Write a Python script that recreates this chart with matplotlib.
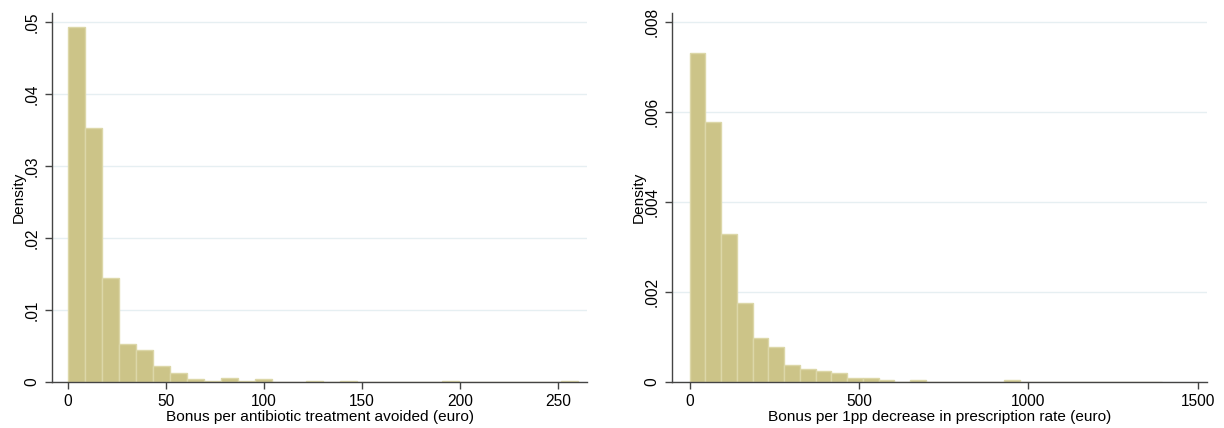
import numpy as np
import matplotlib.pyplot as plt

plt.rcParams['font.family'] = ['Liberation Sans', 'DejaVu Sans']

# left panel: bonus per antibiotic treatment avoided, 30 bins over 0-260
left_edges = np.linspace(0, 260, 31)
left_density = [0.0493, 0.0353, 0.0145, 0.0053, 0.0044, 0.0022, 0.0013, 0.0004,
                0.00015, 0.0006, 0.0001, 0.0004, 0.0, 0.0, 0.00007, 0.0,
                0.00013, 0.0, 0.0, 0.0, 0.0, 0.0, 0.00007, 0.0,
                0.0, 0.0, 0.0, 0.0, 0.0, 0.00013]
left_yticks = [0, 0.01, 0.02, 0.03, 0.04, 0.05]
left_ylabels = ['0', '.01', '.02', '.03', '.04', '.05']
left_xticks = [0, 50, 100, 150, 200, 250]

# right panel: bonus per 1pp decrease in prescription rate, 30 bins over 0-1394
right_edges = np.linspace(0, 1394, 31)
right_density = [0.00731, 0.00577, 0.0033, 0.00175, 0.00098, 0.00078, 0.00037, 0.00028,
                 0.00024, 0.0002, 0.00009, 0.00009, 0.00004, 0.00001, 0.00004, 0.0,
                 0.0, 0.00001, 0.00001, 0.0, 0.00004, 0.0, 0.0, 0.0,
                 0.0, 0.0, 0.0, 0.00001, 0.0, 0.00001]
right_yticks = [0, 0.002, 0.004, 0.006, 0.008]
right_ylabels = ['0', '.002', '.004', '.006', '.008']
right_xticks = [0, 500, 1000, 1500]

fig = plt.figure(figsize=(12.24, 4.28), dpi=100)
ax1 = fig.add_axes([52 / 1224, 1 - 382 / 428, 535 / 1224, 369 / 428])
ax2 = fig.add_axes([672 / 1224, 1 - 382 / 428, 535 / 1224, 369 / 428])

bar_col = '#ccc488'
edge_col = '#dcd7a8'
axis_col = '#444444'
grid_col = '#e6eff2'


def panel(ax, edges, dens, yt, yl, xt, xlim, ylim, xlabel):
    w = edges[1] - edges[0]
    ax.bar(edges[:-1], dens, width=w, align='edge', color=bar_col,
           edgecolor=edge_col, linewidth=1.0, zorder=2)
    ax.set_xlim(*xlim)
    ax.set_ylim(*ylim)
    ax.set_yticks(yt)
    ax.set_yticklabels(yl, rotation=90, va='center')
    ax.set_xticks(xt)
    ax.yaxis.grid(True, color=grid_col, linewidth=1.0, zorder=0)
    ax.set_axisbelow(True)
    for s in ['top', 'right']:
        ax.spines[s].set_visible(False)
    for s in ['left', 'bottom']:
        ax.spines[s].set_color(axis_col)
        ax.spines[s].set_linewidth(1.0)
    ax.tick_params(colors=axis_col, labelcolor='black', labelsize=11.2,
                   length=5, width=1.0)
    ax.tick_params(axis='x', pad=4)
    ax.tick_params(axis='y', pad=4)
    ax.set_xlabel(xlabel, fontsize=11.1, labelpad=0)
    ax.set_ylabel('Density', fontsize=11.1, labelpad=-1)


panel(ax1, left_edges, left_density, left_yticks, left_ylabels, left_xticks,
      (-8.2, 264.8), (0, 0.05125), 'Bonus per antibiotic treatment avoided (euro)')
panel(ax2, right_edges, right_density, right_yticks, right_ylabels, right_xticks,
      (-52, 1527), (0, 0.0082), 'Bonus per 1pp decrease in prescription rate (euro)')

fig.savefig('out.png', dpi=100, facecolor='white')
